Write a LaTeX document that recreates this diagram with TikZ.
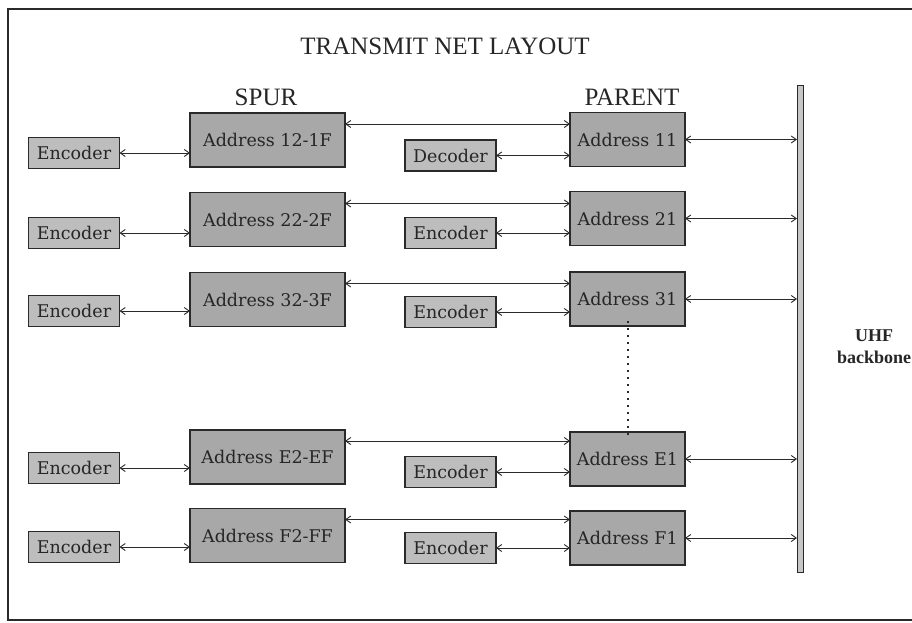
\documentclass[tikz,border=0pt]{standalone}
\usepackage{fontspec}
\setmainfont{Liberation Serif}
\newfontfamily\boxfont{DejaVu Serif}
\usetikzlibrary{arrows.meta,calc}

\definecolor{addrfill}{HTML}{A8A8A8}
\definecolor{encfill}{HTML}{BDBDBD}
\definecolor{edge}{HTML}{2A2A2A}

\tikzset{
  every node/.style={inner sep=0pt, outer sep=0pt},
  addrbox/.style={draw=edge, line width=1.4pt, fill=addrfill,
    minimum height=54pt, font=\boxfont\fontsize{17.5}{19}\selectfont, text=black!85},
  spurbox/.style={addrbox, minimum width=155pt},
  parentbox/.style={addrbox, minimum width=115pt},
  codebox/.style={draw=edge, line width=1.3pt, fill=encfill,
    minimum width=91pt, minimum height=31pt,
    font=\boxfont\fontsize{17.5}{19}\selectfont, text=black!85},
  link/.style={draw=edge, line width=0.9pt,
    {Straight Barb[length=5pt,width=7pt]}-{Straight Barb[length=5pt,width=7pt]}},
  heading/.style={font=\fontsize{25}{28}\selectfont, text=black!85},
}

\begin{document}
\begin{tikzpicture}[x=1pt, y=-1pt]
  \useasboundingbox (0,0) rectangle (912,623);
  \fill[white] (0,0) rectangle (912,623);

  % outer frame (right side runs past the page edge)
  \draw[line width=1.6pt, edge] (930,9) -- (8,9) -- (8,620) -- (930,620);

  % headings
  \node[heading] (title) at (445,46) {TRANSMIT NET LAYOUT};
  \node[heading] (spurlbl) at (266,97) {SPUR};
  \node[heading] (parentlbl) at (632,97) {PARENT};

  % UHF backbone bar
  \node[draw=edge, line width=0.8pt, fill=gray!45, minimum width=6pt,
        minimum height=487pt] (bb) at (800,328.5) {};
  \node[font=\bfseries\fontsize{18}{21}\selectfont, align=center, text=black!85]
        (bblbl) at (874,347) {UHF\\[1pt]backbone};

  % row 1
  \node[codebox]   (e1) at (74,153)    {Encoder};
  \node[spurbox]   (s1) at (267.5,140) {Address 12-1F};
  \node[codebox]   (m1) at (450.5,155.5) {Decoder};
  \node[parentbox] (p1) at (627.5,139.5) {Address 11};
  % row 2
  \node[codebox]   (e2) at (74,233)    {Encoder};
  \node[spurbox]   (s2) at (267.5,219.5) {Address 22-2F};
  \node[codebox]   (m2) at (450.5,233) {Encoder};
  \node[parentbox] (p2) at (627.5,218.5) {Address 21};
  % row 3
  \node[codebox]   (e3) at (74,311)    {Encoder};
  \node[spurbox]   (s3) at (267.5,299.5) {Address 32-3F};
  \node[codebox]   (m3) at (450.5,312) {Encoder};
  \node[parentbox] (p3) at (627.5,299) {Address 31};
  % row 4
  \node[codebox]   (e4) at (74,468)    {Encoder};
  \node[spurbox]   (s4) at (267.5,457) {Address E2-EF};
  \node[codebox]   (m4) at (450.5,472) {Encoder};
  \node[parentbox] (p4) at (627.5,459) {Address E1};
  % row 5
  \node[codebox]   (e5) at (74,547)    {Encoder};
  \node[spurbox]   (s5) at (267.5,535.5) {Address F2-FF};
  \node[codebox]   (m5) at (450.5,548) {Encoder};
  \node[parentbox] (p5) at (627.5,538) {Address F1};

  % connectors
  \foreach \i in {1,...,5}{
    \coordinate (t\i) at ($(s\i.north east)+(0,11)$);
    \draw[link] (e\i.east) -- (e\i.east -| s\i.west);
    \draw[link] (m\i.east) -- (m\i.east -| p\i.west);
    \draw[link] (t\i) -- (t\i -| p\i.west);
    \draw[link] (p\i.east) -- (p\i.east -| bb.west);
  }

  % elided rows between 31 and E1
  \draw[edge, line width=2pt, dash pattern=on 2pt off 5pt]
    ([yshift=5pt]p3.south) -- ([yshift=-5pt]p4.north);
\end{tikzpicture}
\end{document}
